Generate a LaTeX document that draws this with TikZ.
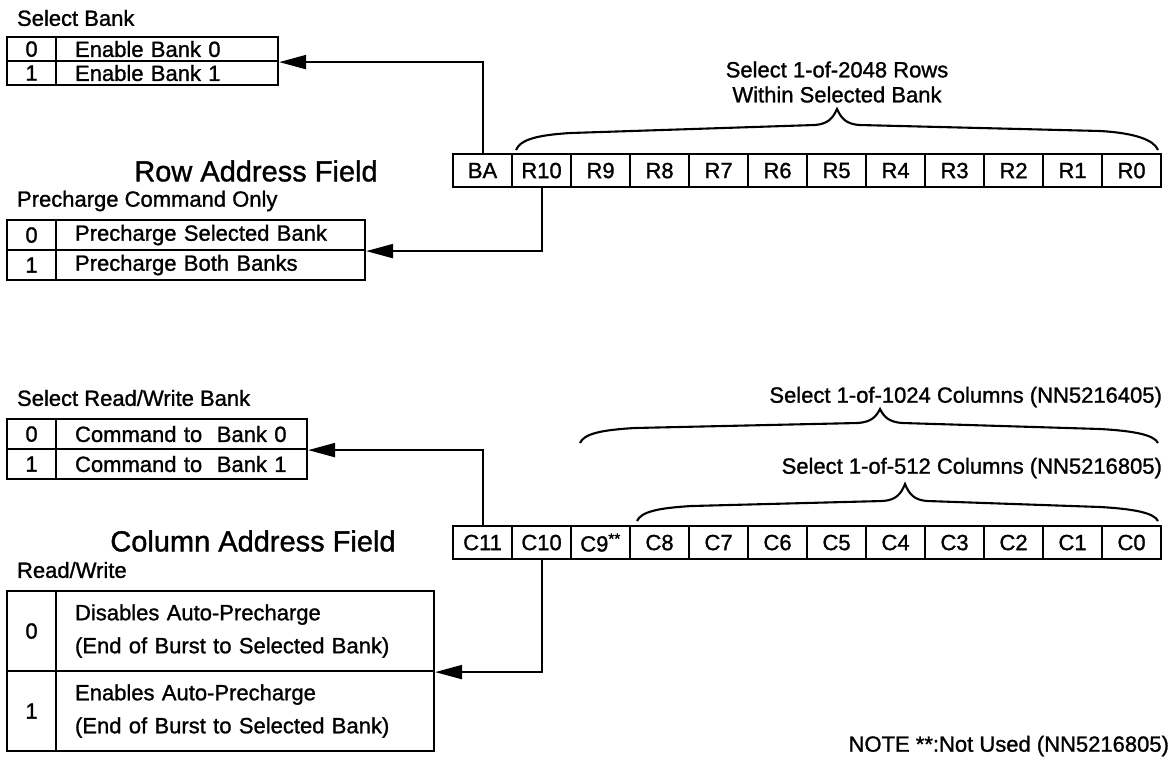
\documentclass[tikz,border=0pt]{standalone}
\usepackage{fontspec}
\setmainfont{Liberation Sans}[UprightFeatures={FakeBold=1.2}]
\usetikzlibrary{arrows.meta}

\begin{document}
\begin{tikzpicture}[x=1pt,y=-1pt,line width=2.1pt,
    every node/.style={inner sep=0pt,font=\fontsize{22}{26}\selectfont},
    numcell/.style={draw,anchor=north west,minimum width=49pt,minimum height=#1},
    textcell/.style={draw,anchor=north west,align=left,inner xsep=19pt,minimum height=#1},
    regbox/.style={draw,anchor=north west,minimum width=59pt,minimum height=33pt},
    bigtext/.style={font=\fontsize{29}{34}\selectfont},
    arr/.style={-{Triangle[length=27pt,width=14pt]}}]
    \useasboundingbox (0,0) rectangle (1174,759);

    % row address field
    \foreach \b/\lbl [count=\i from 0] in {BA/BA,10/R10,9/R9,8/R8,7/R7,6/R6,5/R5,4/R4,3/R3,2/R2,1/R1,0/R0}
      \node[regbox] (r\b) at ({452+59*\i},153) {\lbl};
    \node[bigtext] (rowfield) at (256,171) {Row Address Field};
    \node[align=center,font=\fontsize{22}{25}\selectfont] (rowsel) at (837,82) {Select 1-of-2048 Rows\\Within Selected Bank};
    \draw (516,150) .. controls (520,140) and (536,135) .. (571,133) -- (815,125)
      .. controls (828,124) and (833,118) .. (837,109) .. controls (841,118) and (846,124) .. (859,125)
      -- (1100,131) .. controls (1135,133) and (1154,140) .. (1158,150);

    \node[anchor=west] (lblbank) at (16,18) {Select Bank};
    \node[numcell=24pt] (sb0n) at (6,36) {0};
    \node[textcell=24pt,text width=184pt] (sb0) at (55,36) {Enable Bank 0};
    \node[numcell=24pt] (sb1n) at (6,60) {1};
    \node[textcell=24pt,text width=184pt] (sb1) at (55,60) {Enable Bank 1};
    \draw[arr] (rBA.north) |- (sb0.south east);

    \node[anchor=west] (lblpre) at (16,201) {Precharge Command Only};
    \node[numcell=30pt] (pc0n) at (6,219) {0};
    \node[textcell=30pt,text width=271pt] (pc0) at (55,219) {Precharge Selected Bank};
    \node[numcell=30pt] (pc1n) at (6,249) {1};
    \node[textcell=30pt,text width=271pt] (pc1) at (55,249) {Precharge Both Banks};
    \draw[arr] (r10.south) |- (pc0.south east);

    % column address field
    \foreach \b/\lbl [count=\i from 0] in {11/C11,10/C10,9/C9\textsuperscript{**},8/C8,7/C7,6/C6,5/C5,4/C4,3/C3,2/C2,1/C1,0/C0}
      \node[regbox] (c\b) at ({452+59*\i},525) {\lbl};
    \node[bigtext] (colfield) at (253,541) {Column Address Field};
    \node[anchor=east] (colsel1) at (1163,397) {Select 1-of-1024 Columns (NN5216405)};
    \node[anchor=east] (colsel2) at (1163,468) {Select 1-of-512 Columns (NN5216805)};
    \draw (580,443) .. controls (584,434) and (600,430) .. (635,428) -- (858,423)
      .. controls (871,422) and (876,417) .. (880,409) .. controls (884,417) and (889,422) .. (902,423)
      -- (1100,429) .. controls (1135,431) and (1154,435) .. (1158,443);
    \draw (637,521) .. controls (641,512) and (657,508) .. (692,506) -- (883,501)
      .. controls (896,500) and (901,494) .. (905,484) .. controls (909,494) and (914,500) .. (927,501)
      -- (1100,507) .. controls (1135,509) and (1154,513) .. (1158,521);

    \node[anchor=west] (lblrwb) at (16,398) {Select Read/Write Bank};
    \node[numcell=30pt] (rw0n) at (6,418) {0};
    \node[textcell=30pt,text width=213pt] (rw0) at (55,418) {Command to\ \ Bank 0};
    \node[numcell=30pt] (rw1n) at (6,448) {1};
    \node[textcell=30pt,text width=213pt] (rw1) at (55,448) {Command to\ \ Bank 1};
    \draw[arr] (c11.north) |- (rw0.south east);

    \node[anchor=west] (lblrw) at (16,570) {Read/Write};
    \node[numcell=80pt] (ap0n) at (6,590) {0};
    \node[textcell=80pt,text width=340pt,font=\fontsize{22}{33}\selectfont] (ap0) at (55,590)
      {Disables Auto-Precharge\\(End of Burst to Selected Bank)};
    \node[numcell=80pt] (ap1n) at (6,670) {1};
    \node[textcell=80pt,text width=340pt,font=\fontsize{22}{33}\selectfont] (ap1) at (55,670)
      {Enables Auto-Precharge\\(End of Burst to Selected Bank)};
    \draw[arr] (c10.south) |- (ap0.south east);

    \node[anchor=east] (note) at (1170,746) {NOTE **:Not Used (NN5216805)};
  \end{tikzpicture}
\end{document}
